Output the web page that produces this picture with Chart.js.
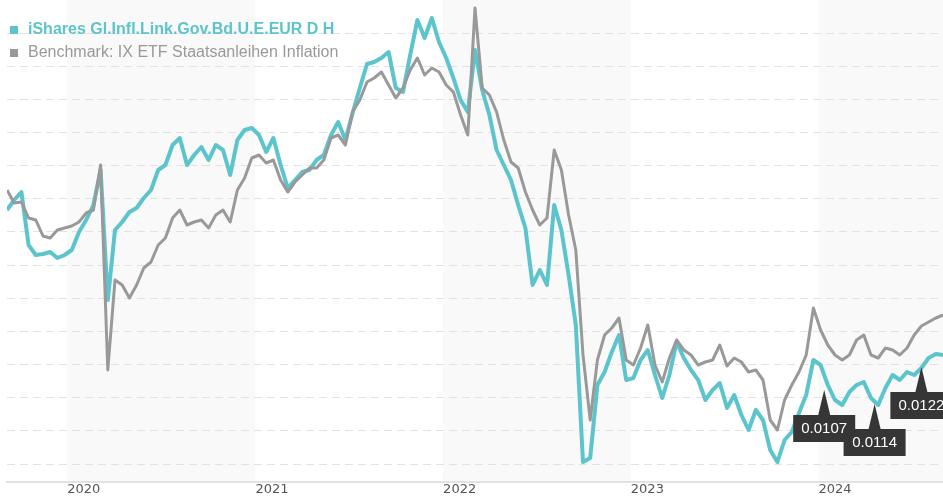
<!DOCTYPE html>
<html>
<head>
<meta charset="utf-8">
<script src="https://cdn.jsdelivr.net/npm/chart.js@4.4.1/dist/chart.umd.min.js"></script>
<style>
    html, body { margin: 0; padding: 0; background: #fff; }
    #wrap { position: relative; width: 943px; height: 500px; }
    #legend { position: absolute; left: 10px; top: 17px; font-family: "Liberation Sans", Arial, sans-serif; font-size: 16px; line-height: 23px; }
    #legend .item { white-space: nowrap; }
    #legend .box { display: inline-block; width: 8px; height: 8px; margin-right: 10px; }
    #legend .fund { color: #5cc4cc; font-weight: bold; }
    #legend .fund .box { background: #5cc4cc; }
    #legend .bench { color: #999; }
    #legend .bench .box { background: #999; }
</style>
</head>
<body>
<div id="wrap">
    <canvas id="chart" width="943" height="500"></canvas>
    <div id="legend">
        <div class="item fund"><span class="box"></span>iShares Gl.Infl.Link.Gov.Bd.U.E.EUR D H</div>
        <div class="item bench"><span class="box"></span>Benchmark: IX ETF Staatsanleihen Inflation</div>
    </div>
</div>
<script>
// fortnightly closes from 6 Sep 2019 (index level)
const startDate = Date.UTC(2019, 8, 6);
const stepDays = 14;

const fund = [
    254, 264, 272, 219, 209, 210, 212, 206, 209, 214,
    232, 244, 259, 294, 164, 234, 242, 252, 256, 266,
    274, 294, 299, 319, 326, 299, 309, 317, 304, 319,
    314, 289, 324, 334, 336, 329, 312, 326, 299, 276,
    284, 292, 294, 304, 309, 329, 342, 324, 351, 376,
    400, 402, 406, 412, 376, 372, 409, 444, 426, 446,
    422, 406, 386, 364, 352, 414, 374, 349, 314, 299,
    284, 259, 236, 179, 194, 179, 259, 234, 189, 139,
    2, 6, 79, 92, 112, 129, 84, 86, 104, 114,
    89, 66, 89, 122, 106, 94, 84, 64, 74, 81,
    56, 69, 49, 34, 54, 44, 14, 2, 24, 32,
    51, 69, 104, 99, 79, 64, 59, 72, 79, 82,
    66, 59, 76, 89, 84, 92, 89, 96, 106, 110, 109
];

const bench = [
    274, 261, 262, 246, 244, 228, 226, 234, 236, 238,
    242, 251, 254, 299, 94, 184, 179, 166, 179, 196,
    202, 219, 226, 246, 254, 239, 242, 244, 236, 249,
    254, 242, 274, 286, 306, 309, 301, 304, 284, 272,
    282, 289, 296, 296, 304, 326, 329, 319, 352, 364,
    382, 386, 392, 379, 366, 376, 394, 406, 389, 396,
    392, 379, 372, 349, 329, 456, 376, 369, 352, 324,
    302, 296, 272, 254, 239, 246, 314, 294, 249, 214,
    109, 44, 104, 129, 136, 146, 104, 99, 116, 139,
    99, 82, 106, 124, 114, 109, 99, 102, 104, 119,
    98, 106, 102, 92, 94, 84, 44, 34, 64, 79,
    92, 109, 156, 134, 119, 109, 104, 109, 124, 129,
    109, 106, 116, 114, 109, 116, 129, 138, 142, 146, 149
];

const yearTicks = [2020, 2021, 2022, 2023, 2024];
const shadedYears = [2020, 2022, 2024];

// distributions
const divDates = ['2024-01-12', '2024-04-19', '2024-07-19'];
const divAmount = [0.0107, 0.0114, 0.0122];
const divLevel = [74, 60, 97];

const gridStep = 33.15;
const gridLevels = Array.from({ length: 14 }, (_, i) => i * gridStep);

const dates = fund.map((_, i) => startDate + i * stepDays * 864e5);

const yearBands = {
    id: 'yearBands',
    beforeDraw(chart) {
        const { ctx, chartArea, scales: { x } } = chart;
        ctx.save();
        ctx.fillStyle = '#f9f9f9';
        shadedYears.forEach(yr => {
            const x0 = Math.max(x.getPixelForValue(Date.UTC(yr, 0, 1)), chartArea.left);
            const x1 = Math.min(x.getPixelForValue(Date.UTC(yr + 1, 0, 1)), chartArea.right);
            ctx.fillRect(x0, chartArea.top, x1 - x0, chartArea.bottom - chartArea.top);
        });
        ctx.restore();
    }
};

const divMarkers = {
    id: 'divMarkers',
    afterDatasetsDraw(chart) {
        const { ctx, scales: { x, y } } = chart;
        ctx.save();
        ctx.font = '15px "Liberation Sans", Arial, sans-serif';
        ctx.textAlign = 'center';
        ctx.textBaseline = 'middle';
        divDates.forEach((d, i) => {
            const px = x.getPixelForValue(Date.parse(d));
            const py = y.getPixelForValue(divLevel[i]);
            ctx.fillStyle = '#363636';
            ctx.beginPath();
            ctx.moveTo(px, py);
            ctx.lineTo(px + 6, py + 25);
            ctx.lineTo(px - 6, py + 25);
            ctx.closePath();
            ctx.fill();
            ctx.fillRect(px - 31, py + 25, 62, 27);
            ctx.fillStyle = '#fff';
            ctx.fillText(divAmount[i].toFixed(4), px, py + 39);
        });
        ctx.restore();
    }
};

new Chart(document.getElementById('chart'), {
    type: 'line',
    data: {
        datasets: [{
            label: 'iShares Gl.Infl.Link.Gov.Bd.U.E.EUR D H',
            data: fund.map((v, i) => ({ x: dates[i], y: v })),
            borderColor: '#5cc4cc',
            borderWidth: 4,
            order: 2
        }, {
            label: 'Benchmark: IX ETF Staatsanleihen Inflation',
            data: bench.map((v, i) => ({ x: dates[i], y: v })),
            borderColor: '#999999',
            borderWidth: 3,
            order: 1
        }]
    },
    options: {
        responsive: false,
        animation: false,
        layout: { padding: { left: 7, right: 0, top: 0, bottom: 0 } },
        elements: {
            point: { radius: 0 },
            line: { tension: 0, borderJoinStyle: 'round' }
        },
        scales: {
            x: {
                type: 'linear',
                min: dates[0],
                max: dates[dates.length - 1],
                afterBuildTicks: axis => { axis.ticks = yearTicks.map(yr => ({ value: Date.UTC(yr, 0, 1) })); },
                afterFit: axis => { axis.height = 18; },
                ticks: {
                    align: 'start',
                    padding: 0,
                    color: '#555',
                    autoSkip: false,
                    maxRotation: 0,
                    font: { family: 'DejaVu Sans', size: 13 },
                    callback: v => new Date(v).getUTCFullYear()
                },
                grid: { display: false, drawTicks: false, tickLength: 0 },
                border: { display: true, color: '#e2e2e2', width: 2 }
            },
            y: {
                min: -18,
                max: 464,
                afterBuildTicks: axis => { axis.ticks = gridLevels.map(v => ({ value: v })); },
                ticks: { display: false },
                grid: { color: '#e2e2e2', lineWidth: 1, drawTicks: false, tickLength: 0 },
                border: { display: false, dash: [8, 5] }
            }
        },
        plugins: {
            legend: { display: false },
            tooltip: { enabled: false }
        }
    },
    plugins: [yearBands, divMarkers]
});
</script>
</body>
</html>
